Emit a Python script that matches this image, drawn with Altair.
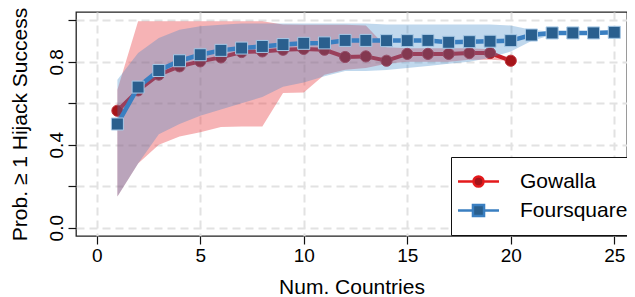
import altair as alt
import pandas as pd

# ---- data ----
gow_x = list(range(1, 21))
gow_mean = [0.564, 0.662, 0.738, 0.778, 0.802, 0.821, 0.847, 0.850, 0.858, 0.862,
            0.858, 0.823, 0.826, 0.805, 0.838, 0.838, 0.838, 0.842, 0.842, 0.805]
gow_low = [0.15, 0.31, 0.40, 0.44, 0.46, 0.485, 0.488, 0.488, 0.649, 0.652,
           0.738, 0.762, 0.77, 0.79, 0.80, 0.80, 0.80, 0.81, 0.81, 0.805]
gow_high = [0.665, 0.995, 0.995, 0.995, 0.995, 0.995, 0.995, 0.995, 0.98, 0.978,
            0.978, 0.978, 0.975, 0.87, 0.865, 0.865, 0.865, 0.865, 0.86, 0.805]

fsq_x = list(range(1, 26))
fsq_mean = [0.50, 0.678, 0.758, 0.805, 0.834, 0.855, 0.866, 0.874, 0.883, 0.889,
            0.891, 0.903, 0.903, 0.902, 0.902, 0.903, 0.894, 0.897, 0.899, 0.902,
            0.929, 0.939, 0.939, 0.939, 0.942]
fsq_low = [0.15, 0.31, 0.45, 0.50, 0.54, 0.57, 0.60, 0.63, 0.68, 0.70,
           0.73, 0.755, 0.755, 0.76, 0.77, 0.78, 0.79, 0.80, 0.82, 0.85,
           0.90, 0.93, 0.939, 0.939, 0.942]
fsq_high = [0.713, 0.842, 0.915, 0.955, 0.971, 0.979, 0.984, 0.985, 0.985, 0.985,
            0.985, 0.985, 0.985, 0.98, 0.98, 0.98, 0.98, 0.98, 0.98, 0.975,
            0.955, 0.945, 0.939, 0.939, 0.942]

series_names = ["Gowalla", "Foursquare"]
x_ticks = [0, 5, 10, 15, 20, 25]
y_ticks = [0.0, 0.2, 0.4, 0.6, 0.8, 1.0]

FONT = "Liberation Sans"

gow = pd.DataFrame({"x": gow_x, "mean": gow_mean, "low": gow_low, "high": gow_high})
fsq = pd.DataFrame({"x": fsq_x, "mean": fsq_mean, "low": fsq_low, "high": fsq_high})
leg = pd.DataFrame({"series": series_names, "x": [1, 1], "mean": [0.5, 0.5]})

X_DOM = [-1, 25.615]
Y_DOM = [-0.04, 1.04]

x_enc = alt.X("x:Q", scale=alt.Scale(domain=X_DOM, nice=False, zero=False),
              axis=alt.Axis(values=x_ticks, title="Num. Countries", format="d"))
y_enc = alt.Y("mean:Q", scale=alt.Scale(domain=Y_DOM, nice=False, zero=False),
              axis=alt.Axis(values=y_ticks, title="Prob. \u2265 1 Hijack Success",
                            labelExpr="(abs(datum.value-0.0)<0.001 || abs(datum.value-0.4)<0.001 || abs(datum.value-0.8)<0.001) ? format(datum.value, '.1f') : ''",
                            labelAngle=270))

def band(df, color, op):
    return alt.Chart(df).mark_area(color=color, opacity=op).encode(
        x=x_enc, y=alt.Y("low:Q", scale=alt.Scale(domain=Y_DOM, nice=False, zero=False)), y2="high:Q")

def line(df, color, w):
    return alt.Chart(df).mark_line(color=color, strokeWidth=w).encode(x=x_enc, y=y_enc)

def pts(df, shape, fill, stroke, size):
    return alt.Chart(df).mark_point(shape=shape, filled=True, fill=fill, stroke=stroke,
                                    strokeWidth=1, size=size, opacity=1).encode(x=x_enc, y=y_enc)

circ_path = "M-2,0H-0.49M0.49,0H2M0.49,0A0.49,0.49 0 1,1 -0.49,0A0.49,0.49 0 1,1 0.49,0Z"
sq_path = "M-2,0H-0.54M0.54,0H2M-0.54,-0.54H0.54V0.54H-0.54Z"

legend_layer = alt.Chart(leg).transform_filter("datum.series == 'none'").mark_point(
    filled=True, opacity=1, size=420).encode(
    x=x_enc, y=y_enc,
    fill=alt.Fill("series:N", scale=alt.Scale(domain=series_names, range=["#a51419", "#2a5f8e"]),
                  legend=alt.Legend(title=None)),
    stroke=alt.Stroke("series:N", scale=alt.Scale(domain=series_names, range=["#e41a1c", "#3a7fc1"]),
                      legend=alt.Legend(title=None)),
    shape=alt.Shape("series:N", scale=alt.Scale(domain=series_names, range=[circ_path, sq_path]),
                    legend=alt.Legend(title=None)),
)

chart = alt.layer(
    band(gow, "#e8383d", 0.38),
    line(gow, "#c81e28", 4),
    pts(gow, "circle", "#a51419", "#c0303a", 125),
    band(fsq, "#3a86c8", 0.32),
    line(fsq, "#3a7fc1", 4.5),
    pts(fsq, "square", "#2a5f8e", "#a6c8e6", 144),
    legend_layer,
).properties(
    width=551, height=224,
    autosize=alt.AutoSizeParams(type="none"),
    padding={"left": 68, "top": 4, "right": 0, "bottom": 61},
).configure_view(
    stroke="#222222", strokeWidth=1.3
).configure_axis(
    domain=False,
    grid=True, gridColor="#e2e2e2", gridDash=[8, 5], gridWidth=2,
    ticks=True, tickColor="#111111", tickSize=8, tickWidth=1.2,
    labelFont=FONT, labelFontSize=19, labelColor="#000000",
    titleFont=FONT, titleFontSize=21, titleFontWeight="normal", titleColor="#000000",
).configure_axisX(
    labelPadding=2, titlePadding=11,
).configure_axisY(
    labelPadding=2, titlePadding=17,
).configure_legend(
    orient="none", legendX=375, legendY=145, fillColor="white", strokeColor="#111111",
    padding=13, cornerRadius=0, labelFont=FONT, labelFontSize=21, labelColor="#000000",
    rowPadding=7, symbolSize=420, symbolStrokeWidth=2.5, symbolOffset=3, labelOffset=30,
)

chart.save("out.html", embed_options={"renderer": "svg", "actions": False})
